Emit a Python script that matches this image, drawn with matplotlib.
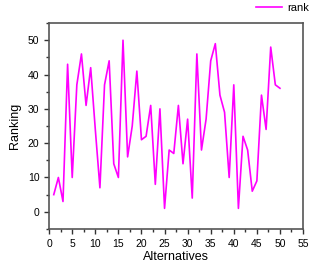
import matplotlib
matplotlib.use("Agg")
import matplotlib.pyplot as plt
from matplotlib.ticker import MultipleLocator

alternatives = list(range(1, 51))
rank = [5, 10, 3, 43, 10, 37, 46, 31, 42, 24,
        7, 37, 44, 14, 10, 50, 16, 25, 41, 21,
        22, 31, 8, 30, 1, 18, 17, 31, 14, 27,
        4, 46, 18, 27, 44, 49, 34, 29, 10, 37,
        1, 22, 18, 6, 9, 34, 24, 48, 37, 36]

plt.rcParams["font.family"] = ["Liberation Sans", "DejaVu Sans"]

fig = plt.figure(figsize=(3.15, 2.65), dpi=100)
ax = fig.add_axes([0.156, 0.136, 0.806, 0.777])
ax.plot(alternatives, rank, color="#FF00FF", linewidth=1.2, label="rank")

ax.set_xlim(0, 55)
ax.set_ylim(-5, 55)
ax.xaxis.set_major_locator(MultipleLocator(5))
ax.xaxis.set_minor_locator(MultipleLocator(2.5))
ax.yaxis.set_major_locator(MultipleLocator(10))
ax.yaxis.set_minor_locator(MultipleLocator(5))
ax.tick_params(which="both", direction="out", labelsize=7.5, color="#333333", width=1)
ax.tick_params(which="major", length=3.5)
ax.tick_params(which="minor", length=2)
for s in ax.spines.values():
    s.set_color("#555555")
    s.set_linewidth(1.2)

ax.set_xlabel("Alternatives", fontsize=9, labelpad=2)
ax.set_ylabel("Ranking", fontsize=9, labelpad=5)

ax.legend(loc="upper right", bbox_to_anchor=(1.04, 1.12), frameon=False,
          fontsize=8, handlelength=2.4, handletextpad=0.4, borderaxespad=0)

fig.savefig("out.png", dpi=100)
